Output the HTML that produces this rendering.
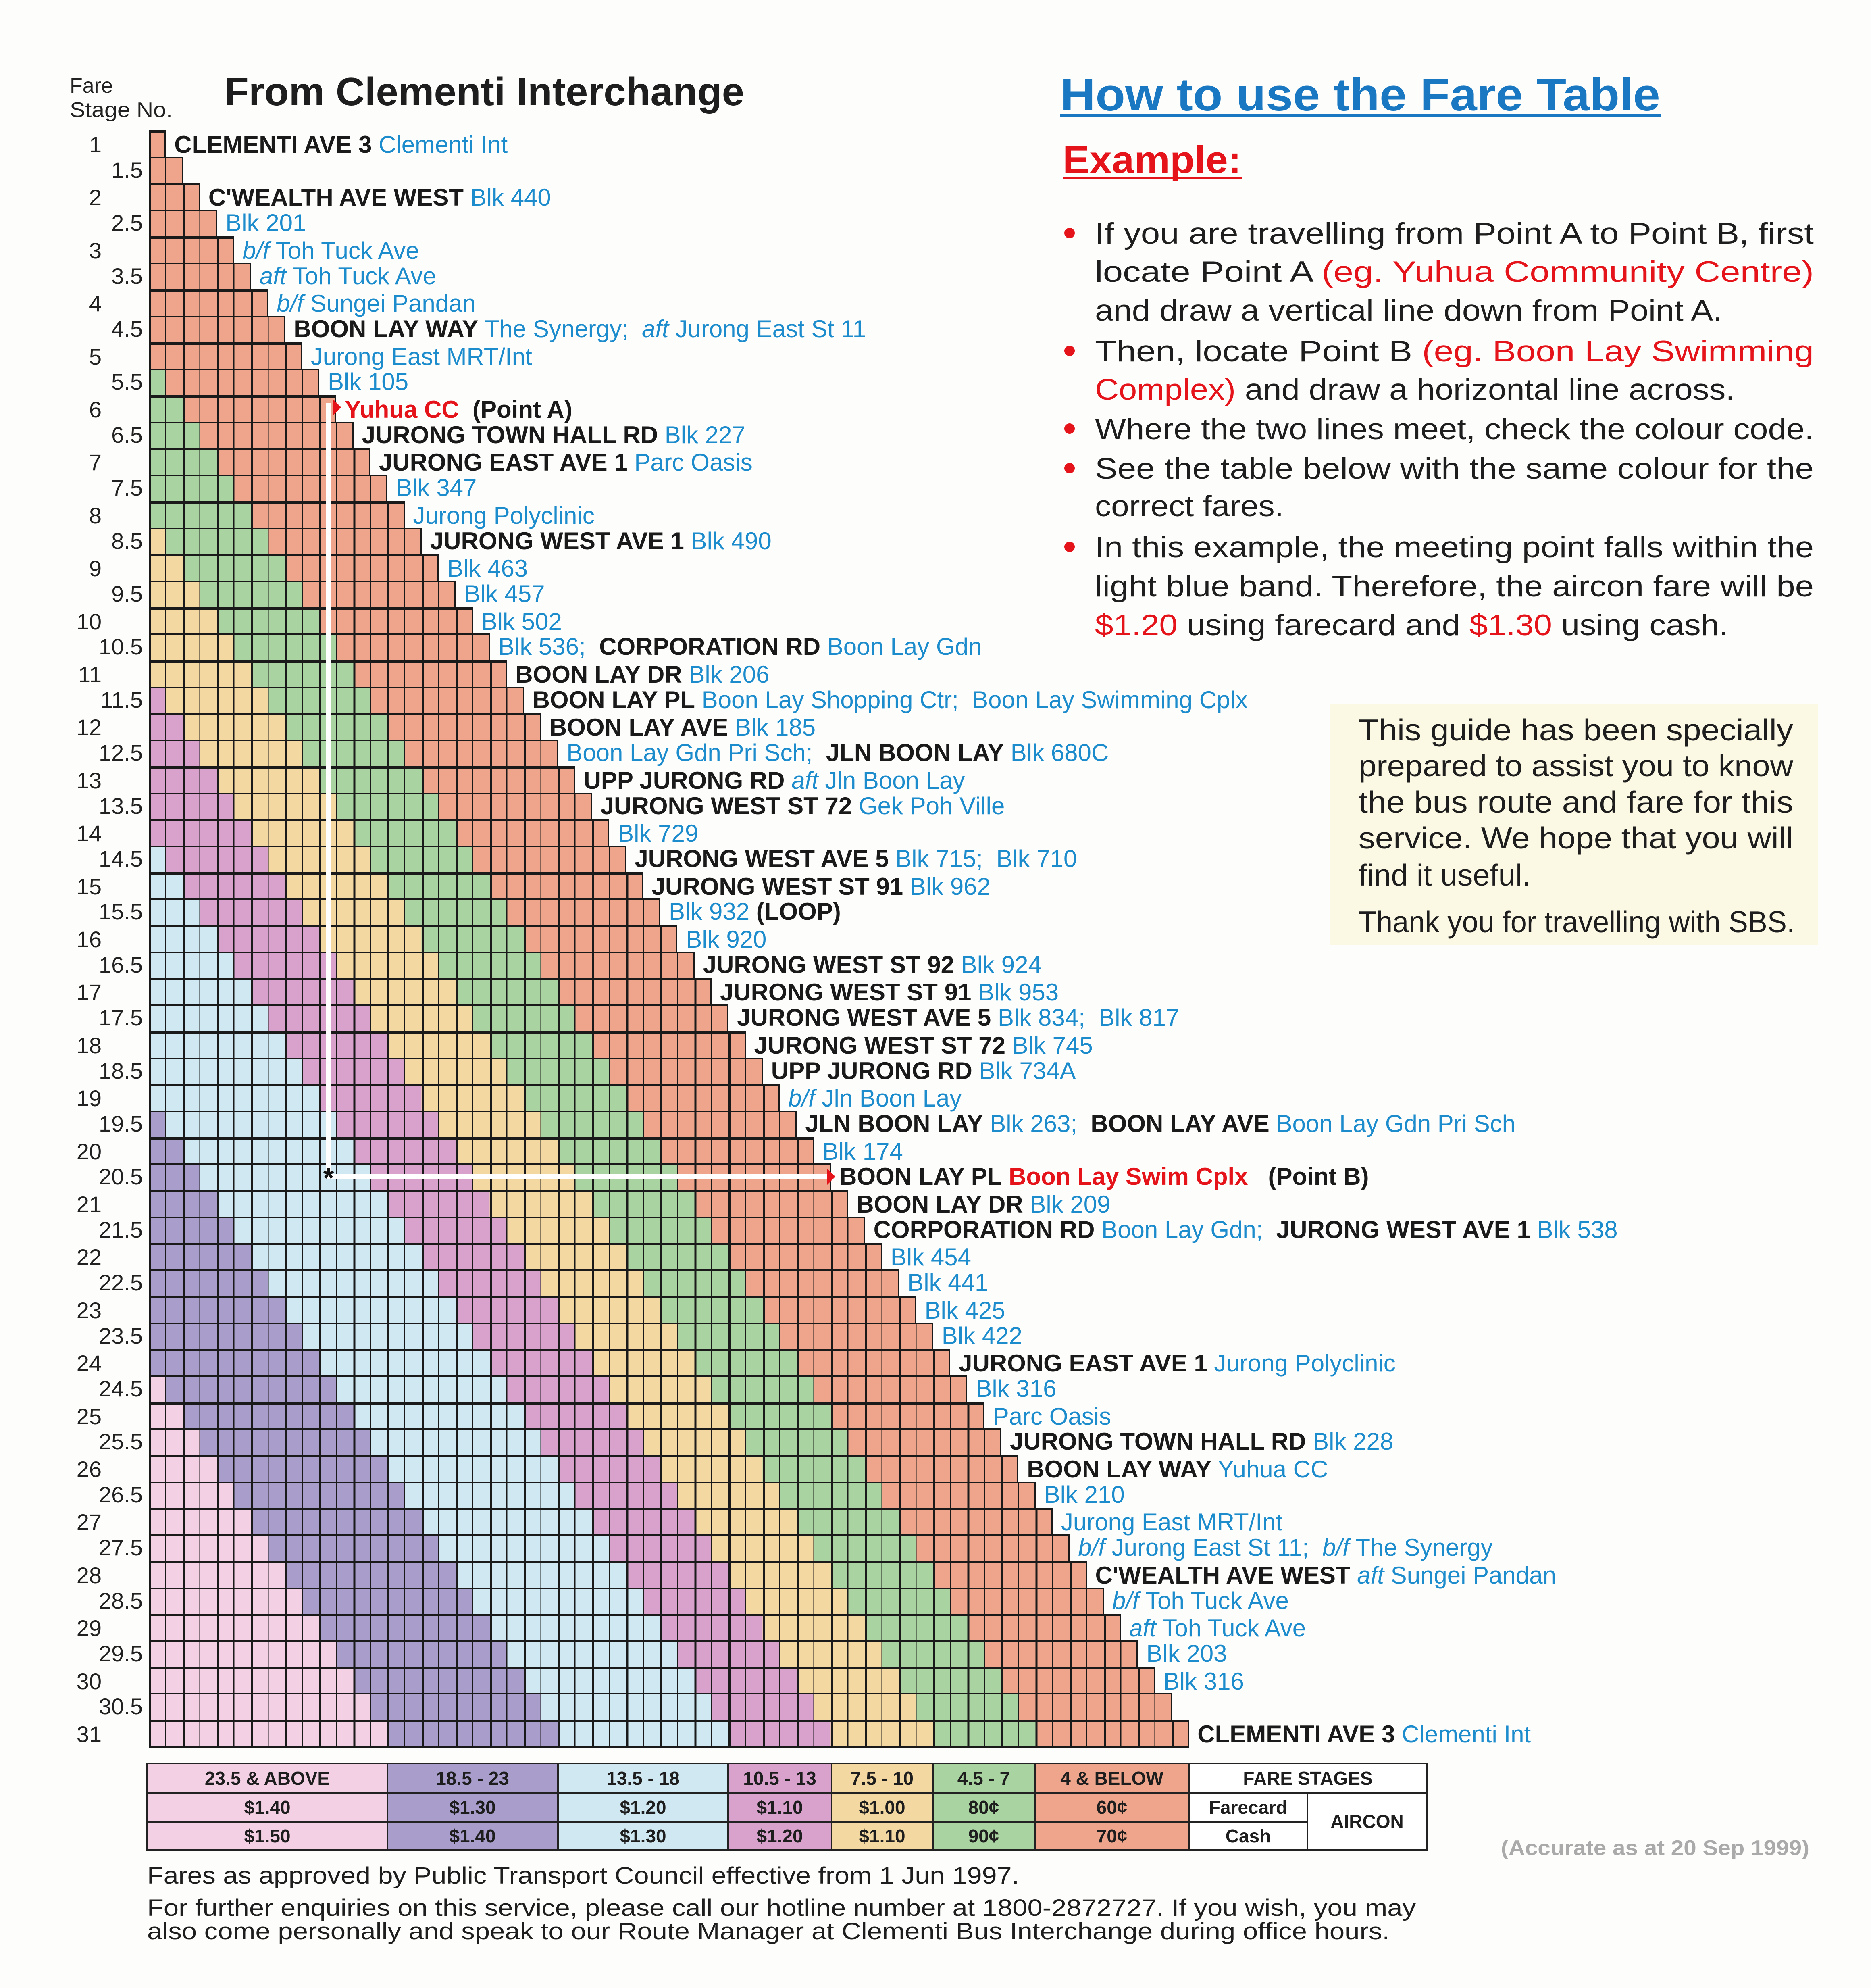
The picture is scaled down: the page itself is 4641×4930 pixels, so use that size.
<!DOCTYPE html>
<html><head><meta charset="utf-8">
<style>
html,body{margin:0;padding:0}
body{width:4641px;height:4930px;position:relative;background:#fdfdfb;overflow:hidden;font-family:"Liberation Sans",Arial,sans-serif}
.r{position:absolute;left:369px;top:calc(323px + var(--i)*65.7px);width:calc((var(--i) + 1)*42.3px);height:66px;box-sizing:border-box;border:solid #1a1a1a;border-width:3px 3px 0 5px;
background:repeating-linear-gradient(to right,#1a1a1a 0 5px,transparent 5px 41px,#1a1a1a 41px 43.5px,transparent 43.5px 84.6px) border-box,
linear-gradient(to left,#eea58c 0 380.7px,#a9d3a0 380.7px 634.5px,#f4d8a2 634.5px 888.3px,#d8a2cc 888.3px 1142.1px,#cfe8f1 1142.1px 1565.1px,#a89dcb 1565.1px 1988.1px,#f3d0e3 1988.1px) border-box}
.t{border-top-width:6px}
.last{border-bottom-width:5px;height:70px}
.r p{position:absolute;left:calc(100% + 24px);top:-3px;margin:0;white-space:nowrap;font-size:60px;line-height:66px;color:#1d8ccd}
.r p b{color:#1a1a1a;font-weight:bold}
.r p strong{color:#e5141b;font-weight:bold}
.r p i{font-style:italic}
.r .n,.r .h{position:absolute;top:-3px;font-size:56px;line-height:66px;color:#222}
.r .n{right:calc(100% + 122px)}
.r .h{right:calc(100% + 20px)}
.wl{position:absolute;background:#fff}
</style></head><body>

<div class="r t" style="--i:0"><span class="n">1</span><p><b>CLEMENTI AVE 3</b> Clementi Int</p></div>
<div class="r" style="--i:1"><span class="h">1.5</span></div>
<div class="r t" style="--i:2"><span class="n">2</span><p><b>C'WEALTH AVE WEST</b> Blk 440</p></div>
<div class="r" style="--i:3"><span class="h">2.5</span><p>Blk 201</p></div>
<div class="r t" style="--i:4"><span class="n">3</span><p><i>b/f</i> Toh Tuck Ave</p></div>
<div class="r" style="--i:5"><span class="h">3.5</span><p><i>aft</i> Toh Tuck Ave</p></div>
<div class="r t" style="--i:6"><span class="n">4</span><p><i>b/f</i> Sungei Pandan</p></div>
<div class="r" style="--i:7"><span class="h">4.5</span><p><b>BOON LAY WAY</b> The Synergy;&nbsp; <i>aft</i> Jurong East St 11</p></div>
<div class="r t" style="--i:8"><span class="n">5</span><p>Jurong East MRT/Int</p></div>
<div class="r" style="--i:9"><span class="h">5.5</span><p>Blk 105</p></div>
<div class="r t" style="--i:10"><span class="n">6</span><p><strong>Yuhua CC</strong>&nbsp; <b style="font-weight:bold">(Point A)</b></p></div>
<div class="r" style="--i:11"><span class="h">6.5</span><p><b>JURONG TOWN HALL RD</b> Blk 227</p></div>
<div class="r t" style="--i:12"><span class="n">7</span><p><b>JURONG EAST AVE 1</b> Parc Oasis</p></div>
<div class="r" style="--i:13"><span class="h">7.5</span><p>Blk 347</p></div>
<div class="r t" style="--i:14"><span class="n">8</span><p>Jurong Polyclinic</p></div>
<div class="r" style="--i:15"><span class="h">8.5</span><p><b>JURONG WEST AVE 1</b> Blk 490</p></div>
<div class="r t" style="--i:16"><span class="n">9</span><p>Blk 463</p></div>
<div class="r" style="--i:17"><span class="h">9.5</span><p>Blk 457</p></div>
<div class="r t" style="--i:18"><span class="n">10</span><p>Blk 502</p></div>
<div class="r" style="--i:19"><span class="h">10.5</span><p>Blk 536;&nbsp; <b>CORPORATION RD</b> Boon Lay Gdn</p></div>
<div class="r t" style="--i:20"><span class="n">11</span><p><b>BOON LAY DR</b> Blk 206</p></div>
<div class="r" style="--i:21"><span class="h">11.5</span><p><b>BOON LAY PL</b> Boon Lay Shopping Ctr;&nbsp; Boon Lay Swimming Cplx</p></div>
<div class="r t" style="--i:22"><span class="n">12</span><p><b>BOON LAY AVE</b> Blk 185</p></div>
<div class="r" style="--i:23"><span class="h">12.5</span><p>Boon Lay Gdn Pri Sch;&nbsp; <b>JLN BOON LAY</b> Blk 680C</p></div>
<div class="r t" style="--i:24"><span class="n">13</span><p><b>UPP JURONG RD</b> <i>aft</i> Jln Boon Lay</p></div>
<div class="r" style="--i:25"><span class="h">13.5</span><p><b>JURONG WEST ST 72</b> Gek Poh Ville</p></div>
<div class="r t" style="--i:26"><span class="n">14</span><p>Blk 729</p></div>
<div class="r" style="--i:27"><span class="h">14.5</span><p><b>JURONG WEST AVE 5</b> Blk 715;&nbsp; Blk 710</p></div>
<div class="r t" style="--i:28"><span class="n">15</span><p><b>JURONG WEST ST 91</b> Blk 962</p></div>
<div class="r" style="--i:29"><span class="h">15.5</span><p>Blk 932 <b>(LOOP)</b></p></div>
<div class="r t" style="--i:30"><span class="n">16</span><p>Blk 920</p></div>
<div class="r" style="--i:31"><span class="h">16.5</span><p><b>JURONG WEST ST 92</b> Blk 924</p></div>
<div class="r t" style="--i:32"><span class="n">17</span><p><b>JURONG WEST ST 91</b> Blk 953</p></div>
<div class="r" style="--i:33"><span class="h">17.5</span><p><b>JURONG WEST AVE 5</b> Blk 834;&nbsp; Blk 817</p></div>
<div class="r t" style="--i:34"><span class="n">18</span><p><b>JURONG WEST ST 72</b> Blk 745</p></div>
<div class="r" style="--i:35"><span class="h">18.5</span><p><b>UPP JURONG RD</b> Blk 734A</p></div>
<div class="r t" style="--i:36"><span class="n">19</span><p><i>b/f</i> Jln Boon Lay</p></div>
<div class="r" style="--i:37"><span class="h">19.5</span><p><b>JLN BOON LAY</b> Blk 263;&nbsp; <b>BOON LAY AVE</b> Boon Lay Gdn Pri Sch</p></div>
<div class="r t" style="--i:38"><span class="n">20</span><p>Blk 174</p></div>
<div class="r" style="--i:39"><span class="h">20.5</span><p><b>BOON LAY PL</b> <strong>Boon Lay Swim Cplx</strong>&nbsp;&nbsp; <b>(Point B)</b></p></div>
<div class="r t" style="--i:40"><span class="n">21</span><p><b>BOON LAY DR</b> Blk 209</p></div>
<div class="r" style="--i:41"><span class="h">21.5</span><p><b>CORPORATION RD</b> Boon Lay Gdn;&nbsp; <b>JURONG WEST AVE 1</b> Blk 538</p></div>
<div class="r t" style="--i:42"><span class="n">22</span><p>Blk 454</p></div>
<div class="r" style="--i:43"><span class="h">22.5</span><p>Blk 441</p></div>
<div class="r t" style="--i:44"><span class="n">23</span><p>Blk 425</p></div>
<div class="r" style="--i:45"><span class="h">23.5</span><p>Blk 422</p></div>
<div class="r t" style="--i:46"><span class="n">24</span><p><b>JURONG EAST AVE 1</b> Jurong Polyclinic</p></div>
<div class="r" style="--i:47"><span class="h">24.5</span><p>Blk 316</p></div>
<div class="r t" style="--i:48"><span class="n">25</span><p>Parc Oasis</p></div>
<div class="r" style="--i:49"><span class="h">25.5</span><p><b>JURONG TOWN HALL RD</b> Blk 228</p></div>
<div class="r t" style="--i:50"><span class="n">26</span><p><b>BOON LAY WAY</b> Yuhua CC</p></div>
<div class="r" style="--i:51"><span class="h">26.5</span><p>Blk 210</p></div>
<div class="r t" style="--i:52"><span class="n">27</span><p>Jurong East MRT/Int</p></div>
<div class="r" style="--i:53"><span class="h">27.5</span><p><i>b/f</i> Jurong East St 11;&nbsp; <i>b/f</i> The Synergy</p></div>
<div class="r t" style="--i:54"><span class="n">28</span><p><b>C'WEALTH AVE WEST</b> <i>aft</i> Sungei Pandan</p></div>
<div class="r" style="--i:55"><span class="h">28.5</span><p><i>b/f</i> Toh Tuck Ave</p></div>
<div class="r t" style="--i:56"><span class="n">29</span><p><i>aft</i> Toh Tuck Ave</p></div>
<div class="r" style="--i:57"><span class="h">29.5</span><p>Blk 203</p></div>
<div class="r t" style="--i:58"><span class="n">30</span><p>Blk 316</p></div>
<div class="r" style="--i:59"><span class="h">30.5</span></div>
<div class="r t last" style="--i:60"><span class="n">31</span><p><b>CLEMENTI AVE 3</b> Clementi Int</p></div>

<!-- example white lines -->
<div class="wl" style="left:808px;top:1000px;width:14px;height:1925px"></div>
<div class="wl" style="left:808px;top:2911px;width:1250px;height:14px"></div>

<svg width="4641" height="4930" viewBox="0 0 4641 4930" style="position:absolute;left:0;top:0" font-family="Liberation Sans, Arial, sans-serif">
  <!-- markers -->
  <text x="815" y="2945" font-size="70" font-weight="bold" text-anchor="middle" fill="#111">*</text>
  <polygon points="826,990 846,1010 826,1030" fill="#e5141b"/>
  <polygon points="2052,2898 2072,2918 2052,2938" fill="#e5141b"/>

  <!-- header left -->
  <text x="173" y="230" font-size="52" fill="#222">Fare</text>
  <text x="173" y="290" font-size="52" fill="#222" textLength="255" lengthAdjust="spacingAndGlyphs">Stage No.</text>
  <text x="556" y="261" font-size="98" font-weight="bold" fill="#1e1e1e" textLength="1290" lengthAdjust="spacingAndGlyphs">From Clementi Interchange</text>

  <!-- right header -->
  <text x="2630" y="274" font-size="114" font-weight="bold" fill="#1a78c2" textLength="1488" lengthAdjust="spacingAndGlyphs">How to use the Fare Table</text>
  <rect x="2630" y="282" width="1490" height="7" fill="#1a78c2"/>
  <text x="2636" y="429" font-size="96" font-weight="bold" fill="#e5141b" textLength="443" lengthAdjust="spacingAndGlyphs">Example:</text>
  <rect x="2636" y="438" width="446" height="7" fill="#e5141b"/>

  <g font-size="73" fill="#1e1e1e">
    <circle cx="2653" cy="578" r="13" fill="#e5141b"/>
    <circle cx="2653" cy="870" r="13" fill="#e5141b"/>
    <circle cx="2653" cy="1063" r="13" fill="#e5141b"/>
    <circle cx="2653" cy="1161" r="13" fill="#e5141b"/>
    <circle cx="2653" cy="1356" r="13" fill="#e5141b"/>
    <text x="2716" y="604" textLength="1783" lengthAdjust="spacingAndGlyphs">If you are travelling from Point A to Point B, first</text>
    <text x="2716" y="699" textLength="1783" lengthAdjust="spacingAndGlyphs">locate Point A <tspan fill="#e5141b">(eg. Yuhua Community Centre)</tspan></text>
    <text x="2716" y="795" textLength="1556" lengthAdjust="spacingAndGlyphs">and draw a vertical line down from Point A.</text>
    <text x="2716" y="896" textLength="1783" lengthAdjust="spacingAndGlyphs">Then, locate Point B <tspan fill="#e5141b">(eg. Boon Lay Swimming</tspan></text>
    <text x="2716" y="991" textLength="1587" lengthAdjust="spacingAndGlyphs"><tspan fill="#e5141b">Complex)</tspan> and draw a horizontal line across.</text>
    <text x="2716" y="1089" textLength="1783" lengthAdjust="spacingAndGlyphs">Where the two lines meet, check the colour code.</text>
    <text x="2716" y="1187" textLength="1783" lengthAdjust="spacingAndGlyphs">See the table below with the same colour for the</text>
    <text x="2716" y="1280" textLength="468" lengthAdjust="spacingAndGlyphs">correct fares.</text>
    <text x="2716" y="1382" textLength="1783" lengthAdjust="spacingAndGlyphs">In this example, the meeting point falls within the</text>
    <text x="2716" y="1479" textLength="1783" lengthAdjust="spacingAndGlyphs">light blue band.  Therefore, the aircon fare will be</text>
    <text x="2716" y="1575" textLength="1571" lengthAdjust="spacingAndGlyphs"><tspan fill="#e5141b">$1.20</tspan> using farecard and <tspan fill="#e5141b">$1.30</tspan> using cash.</text>
  </g>

  <!-- cream box -->
  <rect x="3300" y="1745" width="1210" height="598" fill="#fbf8e4"/>
  <g font-size="75" fill="#1e1e1e">
    <text x="3370" y="1836" textLength="1078" lengthAdjust="spacingAndGlyphs">This guide has been specially</text>
    <text x="3370" y="1925" textLength="1078" lengthAdjust="spacingAndGlyphs">prepared to assist you to know</text>
    <text x="3370" y="2015" textLength="1078" lengthAdjust="spacingAndGlyphs">the bus route and fare for this</text>
    <text x="3370" y="2104" textLength="1078" lengthAdjust="spacingAndGlyphs">service. We hope that you will</text>
    <text x="3370" y="2196" textLength="427" lengthAdjust="spacingAndGlyphs">find it useful.</text>
    <text x="3370" y="2312" textLength="1082" lengthAdjust="spacingAndGlyphs">Thank you for travelling with SBS.</text>
  </g>

  <!-- legend table -->
  <g stroke="#222" stroke-width="4">
    <rect x="365" y="4373" width="596" height="215" fill="#f3d0e3"/>
    <rect x="961" y="4373" width="423" height="215" fill="#a89dcb"/>
    <rect x="1384" y="4373" width="422" height="215" fill="#cfe8f1"/>
    <rect x="1806" y="4373" width="257" height="215" fill="#d8a2cc"/>
    <rect x="2063" y="4373" width="251" height="215" fill="#f4d8a2"/>
    <rect x="2314" y="4373" width="253" height="215" fill="#a9d3a0"/>
    <rect x="2567" y="4373" width="382" height="215" fill="#eea58c"/>
    <rect x="2949" y="4373" width="591" height="215" fill="#ffffff"/>
    <line x1="365" y1="4447" x2="3540" y2="4447"/>
    <line x1="365" y1="4518" x2="3243" y2="4518"/>
    <line x1="3243" y1="4447" x2="3243" y2="4588"/>
  </g>
  <g font-size="46" font-weight="bold" fill="#1e1e1e" text-anchor="middle">
    <text x="663" y="4426">23.5 &amp; ABOVE</text>
    <text x="1172" y="4426">18.5 - 23</text>
    <text x="1595" y="4426">13.5 - 18</text>
    <text x="1934" y="4426">10.5 - 13</text>
    <text x="2188" y="4426">7.5 - 10</text>
    <text x="2440" y="4426">4.5 - 7</text>
    <text x="2758" y="4426">4 &amp; BELOW</text>
    <text x="3244" y="4426">FARE STAGES</text>
    <text x="663" y="4498">$1.40</text>
    <text x="1172" y="4498">$1.30</text>
    <text x="1595" y="4498">$1.20</text>
    <text x="1934" y="4498">$1.10</text>
    <text x="2188" y="4498">$1.00</text>
    <text x="2440" y="4498">80¢</text>
    <text x="2758" y="4498">60¢</text>
    <text x="3096" y="4498">Farecard</text>
    <text x="663" y="4569">$1.50</text>
    <text x="1172" y="4569">$1.40</text>
    <text x="1595" y="4569">$1.30</text>
    <text x="1934" y="4569">$1.20</text>
    <text x="2188" y="4569">$1.10</text>
    <text x="2440" y="4569">90¢</text>
    <text x="2758" y="4569">70¢</text>
    <text x="3096" y="4569">Cash</text>
    <text x="3391" y="4533">AIRCON</text>
  </g>
  <text x="3723" y="4600" font-size="52" font-weight="bold" fill="#aaaaaa" textLength="765" lengthAdjust="spacingAndGlyphs">(Accurate as at 20 Sep 1999)</text>

  <!-- footer -->
  <g font-size="58" fill="#1e1e1e">
    <text x="365" y="4671" textLength="2163" lengthAdjust="spacingAndGlyphs">Fares as approved by Public Transport Council effective from 1 Jun 1997.</text>
    <text x="365" y="4751" textLength="3147" lengthAdjust="spacingAndGlyphs">For further enquiries on this service, please call our hotline number at 1800-2872727.  If you wish, you may</text>
    <text x="365" y="4809" textLength="3082" lengthAdjust="spacingAndGlyphs">also come personally and speak to our Route Manager at Clementi Bus Interchange during office hours.</text>
  </g>
</svg>
</body></html>
